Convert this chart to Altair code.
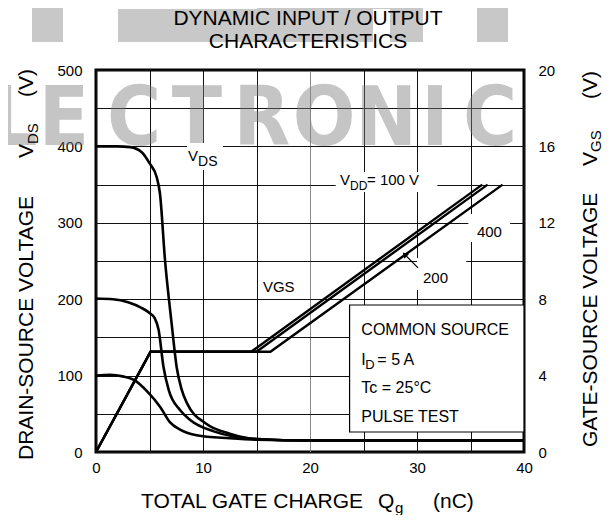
import altair as alt
import pandas as pd

# ---------------- data ----------------
Q_GRID = [0, 5, 10, 15, 20, 25, 30, 35, 40]
VDS_GRID = [0, 50, 100, 150, 200, 250, 300, 350, 400, 450, 500]
VGS_TICKS = [0, 4, 8, 12, 16, 20]

# Drain-source voltage curves (Qg in nC, VDS in V)
VDS100_Q = [0, 1.3, 2.5, 3.6, 4.8, 6.0, 6.9, 7.9, 9.4, 12.5, 15, 20, 40]
VDS100_V = [100, 101, 99, 94, 79, 59, 39, 29, 22, 18, 16, 15, 15]

VDS200_Q = [0, 1.6, 3.0, 4.2, 5.0, 5.5, 5.85, 6.3, 6.8, 7.85, 8.8, 11.0, 15, 20, 40]
VDS200_V = [201, 200, 196, 189, 182, 175, 160, 112, 81, 55, 42, 27, 17, 15, 15]

VDS400_Q = [0, 2.0, 3.2, 4.3, 5.0, 5.67, 5.98, 6.45, 7.07, 7.54, 8.0, 8.5, 10.3, 12.5, 15, 20, 40]
VDS400_V = [400, 400, 399, 392, 378, 360, 338, 251, 168, 111, 82, 64, 37, 24, 17, 15, 15]

# Gate-source voltage curves (Qg in nC, VGS in V)
VGS100_Q = [0, 5.1, 14.5, 36.1]
VGS100_V = [0, 5.25, 5.25, 14.0]
VGS200_Q = [0, 5.1, 15.0, 36.6]
VGS200_V = [0, 5.25, 5.25, 14.0]
VGS400_Q = [0, 5.1, 16.3, 38.0]
VGS400_V = [0, 5.25, 5.25, 14.0]

# ---------------- build tables ----------------
vds_rows = []
for name, qs, vs in [("100", VDS100_Q, VDS100_V), ("200", VDS200_Q, VDS200_V), ("400", VDS400_Q, VDS400_V)]:
    for i, (q, v) in enumerate(zip(qs, vs)):
        vds_rows.append({"q": q, "v": v, "vdd": name, "i": i})
vds_df = pd.DataFrame(vds_rows)

vgs_rows = []
for name, qs, vs in [("100", VGS100_Q, VGS100_V), ("200", VGS200_Q, VGS200_V), ("400", VGS400_Q, VGS400_V)]:
    for i, (q, v) in enumerate(zip(qs, vs)):
        vgs_rows.append({"q": q, "g": v, "vdd": name, "i": i})
vgs_df = pd.DataFrame(vgs_rows)

# ---------------- layout constants ----------------
FONT = "Liberation Sans"
W, H = 428, 382
LEFT, TOP = 96, 70          # page position of the plot origin
ONE = pd.DataFrame({"k": [0]})

x_scale = alt.Scale(domain=[0, 40], nice=False, zero=False)
yl_scale = alt.Scale(domain=[0, 500], nice=False)
yr_scale = alt.Scale(domain=[0, 20], nice=False)

x_axis = alt.Axis(
    values=Q_GRID, labelExpr="datum.value % 10 === 0 ? datum.label : ''",
    grid=True, gridColor={"condition": {"test": "datum.value === 20", "value": "#8a8a8a"}, "value": "#111111"},
    gridWidth=1, ticks=False, domain=False, title=None,
    labelFontSize=15, labelFont=FONT, labelColor="black", labelPadding=8,
    labelFlush=False, labelOverlap=False,
)
yl_axis = alt.Axis(
    values=VDS_GRID, labelExpr="datum.value % 100 === 0 ? datum.label : ''",
    grid=True, gridColor="#111111", gridWidth=1, ticks=False, domain=False, title=None,
    labelFontSize=15, labelFont=FONT, labelColor="black", labelPadding=14,
    labelFlush=False, labelOverlap=False,
)
yr_axis = alt.Axis(
    orient="right", values=VGS_TICKS, grid=False, ticks=False, domain=False, title=None,
    labelFontSize=15, labelFont=FONT, labelColor="black", labelPadding=14,
    labelFlush=False, labelOverlap=False,
)

X = lambda: alt.X("q:Q", scale=x_scale, axis=x_axis)
YL = lambda: alt.Y("v:Q", scale=yl_scale, axis=yl_axis)


def ptext(txt, xp, yp, size, align="left", angle=0, weight="normal", color="black",
          opacity=1.0, font=FONT, baseline="alphabetic"):
    return alt.Chart(ONE).mark_text(
        text=txt, align=align, baseline=baseline, angle=angle, fontSize=size,
        font=font, fontWeight=weight, color=color, opacity=opacity,
    ).encode(x=alt.value(xp - LEFT), y=alt.value(yp - TOP))


def prect(x1, x2, y1, y2, color):
    return alt.Chart(ONE).mark_rect(color=color).encode(
        x=alt.value(x1 - LEFT), x2=alt.value(x2 - LEFT),
        y=alt.value(y1 - TOP), y2=alt.value(y2 - TOP))


def dtext(txt, q, v, size, dx=0, dy=0, align="left"):
    return alt.Chart(pd.DataFrame({"q": [q], "v": [v]})).mark_text(
        text=txt, align=align, baseline="alphabetic", fontSize=size, font=FONT,
        color="black", dx=dx, dy=dy,
    ).encode(x=X(), y=YL())


def drect(q1, q2, v1, v2, stroke=None):
    kw = dict(fill="white")
    if stroke:
        kw.update(stroke=stroke, strokeWidth=1.2)
    return alt.Chart(pd.DataFrame({"q": [q1], "q2": [q2], "v": [v1], "v2": [v2]})).mark_rect(**kw).encode(
        x=X(), x2="q2:Q", y=YL(), y2="v2:Q")


layers = []

# --- watermark (background) ---
for (a, b, c, d) in [(32, 63, 0, 42), (118, 373, 9, 42), (257, 423, 0, 9), (390, 423, 0, 42), (477, 508, 0, 42)]:
    layers.append(prect(a, b, c, d, "#c8c8c8"))
for letter, cx in zip("LECTRONIC", [14, 64, 134, 197, 262, 324, 386, 435, 490]):
    layers.append(ptext(letter, cx, 145, 82, align="center", weight="bold", color="#7f7f7f",
                        opacity=0.45, font="DejaVu Sans Condensed"))

# --- white backgrounds behind in-plot labels ---
layers.append(drect(8.5, 11.87, 404.5, 369))        # VDS
layers.append(drect(22.4, 31.9, 366.5, 340.3))     # VDD = 100 V
layers.append(drect(34.8, 38.7, 311.5, 274.9))     # 400
layers.append(drect(30.0, 34.6, 254, 212))         # 200
# legend box
layers.append(drect(23.7, 40, 192.4, 26.2, stroke="black"))

# --- VDS curves ---
layers.append(
    alt.Chart(vds_df).mark_line(color="black", strokeWidth=2.6, interpolate="monotone").encode(
        x=X(), y=YL(), detail="vdd:N", order="i:Q")
)

# --- in-plot labels ---
layers += [
    dtext("V", 8.6, 381, 15), dtext("DS", 8.6, 381, 14, dx=10, dy=5),
    dtext("V", 22.8, 349.5, 15), dtext("DD", 22.8, 349.5, 12, dx=10, dy=5),
    dtext("= 100 V", 22.8, 349.5, 15, dx=27),
    dtext("400", 35.6, 281.4, 15),
    dtext("200", 30.56, 221.2, 15),
    dtext("VGS", 15.6, 209.4, 15),
    dtext("COMMON SOURCE", 24.8, 153, 16),
    dtext("I", 24.8, 113.9, 16), dtext("D", 24.8, 113.9, 13, dx=4, dy=4),
    dtext("= 5 A", 24.8, 113.9, 16, dx=16),
    dtext("Tc = 25°C", 24.8, 77.2, 16),
    dtext("PULSE TEST", 24.8, 39.3, 16),
]

# arrow to the 200 V curve
layers.append(
    alt.Chart(pd.DataFrame({"q": [30.1], "q2": [28.75], "v": [241], "v2": [260]})).mark_rule(
        color="black", strokeWidth=1.2).encode(x=X(), x2="q2:Q", y=YL(), y2="v2:Q")
)
layers.append(
    alt.Chart(pd.DataFrame({"q": [28.85], "v": [258.5]})).mark_point(
        shape="triangle-up", filled=True, size=40, angle=315, color="black", opacity=1).encode(x=X(), y=YL())
)

# --- titles ---
layers += [
    ptext("DYNAMIC INPUT / OUTPUT", 308, 25, 21, align="center"),
    ptext("CHARACTERISTICS", 308, 48, 21, align="center"),
    ptext("TOTAL GATE CHARGE", 141, 508, 21),
    ptext("Q", 378, 508, 21), ptext("g", 395, 513, 15),
    ptext("(nC)", 433, 508, 21),
    # left axis title
    ptext("DRAIN-SOURCE VOLTAGE", 33, 460, 21, angle=270),
    ptext("V", 33, 158, 21, angle=270),
    ptext("DS", 38, 144, 15, angle=270),
    ptext("(V)", 33, 97, 21, angle=270),
    # right axis title
    ptext("GATE-SOURCE VOLTAGE", 597, 447, 21, angle=270),
    ptext("V", 597, 166, 21, angle=270),
    ptext("GS", 601, 152, 15, angle=270),
    ptext("(V)", 597, 99, 21, angle=270),
]

left_layer = alt.layer(*layers)

right_layer = alt.Chart(vgs_df).mark_line(color="black", strokeWidth=2.4).encode(
    x=X(),
    y=alt.Y("g:Q", scale=yr_scale, axis=yr_axis),
    detail="vdd:N", order="i:Q",
)

chart = (
    alt.layer(left_layer, right_layer)
    .resolve_scale(y="independent")
    .properties(
        width=W, height=H,
        autosize=alt.AutoSizeParams(type="none"),
        padding={"left": 88, "top": 62, "right": 78, "bottom": 63},
        background="white",
    )
    .configure_view(stroke="black", strokeWidth=3)
)

chart.save("out.html", embed_options={"renderer": "svg", "actions": False})
